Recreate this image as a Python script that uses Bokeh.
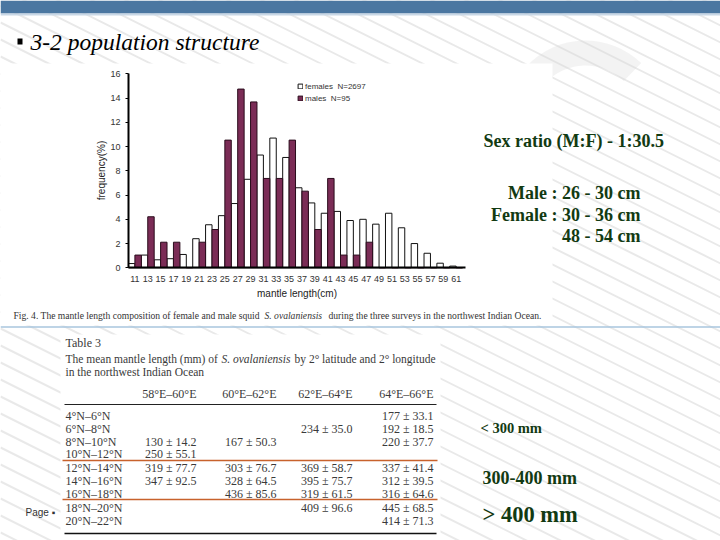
from bokeh.plotting import figure
from bokeh.models import Range1d, LinearAxis, FixedTicker, Legend, LegendItem, ColumnDataSource
from bokeh.transform import dodge
from bokeh.embed import file_html
from bokeh.resources import INLINE
from bokeh.core.properties import value

# ---------------- data ----------------
lengths = [11, 13, 15, 17, 19, 21, 23, 25, 27, 29, 31, 33, 35, 37, 39, 41, 43, 45,
           47, 49, 51, 53, 55, 57, 59, 61]
females = [0.35, 1.05, 0.66, 0.75, 1.1, 2.4, 3.55, 4.3, 5.3, 7.3, 9.3, 10.7, 9.1,
           6.6, 5.35, 4.5, 4.65, 3.9, 4.0, 3.6, 4.5, 3.3, 2.0, 1.2, 0.38, 0.14]
males = [1.05, 4.21, 2.11, 2.11, 0.0, 2.11, 3.16, 10.53, 14.74, 13.68, 7.37, 7.37,
         10.53, 6.32, 3.16, 7.37, 1.05, 1.05, 2.11, 0, 0, 0, 0, 0, 0, 0]
y_ticks = [0, 2, 4, 6, 8, 10, 12, 14, 16]
legend_labels = ["females  N=2697", "males  N=95"]

title_text = "3-2 population structure"
fig_caption = ["Fig. 4.  The mantle length composition of female and male squid",
               "S. ovalaniensis",
               "during the three surveys in the northwest Indian Ocean."]
side_notes = ["Sex ratio (M:F) - 1:30.5", "Male : 26 - 30 cm", "Female : 30 - 36 cm", "48 - 54 cm"]
size_notes = ["< 300 mm", "300-400 mm", "> 400 mm"]

table_title = "Table 3"
table_caption = ["The mean mantle length (mm) of", "S. ovalaniensis",
                 "by 2° latitude and 2° longitude"]
table_caption2 = "in the northwest Indian Ocean"
col_headers = ["58°E–60°E", "60°E–62°E", "62°E–64°E", "64°E–66°E"]
row_labels = ["4°N–6°N", "6°N–8°N", "8°N–10°N", "10°N–12°N", "12°N–14°N",
              "14°N–16°N", "16°N–18°N", "18°N–20°N", "20°N–22°N"]
cells = [
    ["", "", "", "177 ± 33.1"],
    ["", "", "234 ± 35.0", "192 ± 18.5"],
    ["130 ± 14.2", "167 ± 50.3", "", "220 ± 37.7"],
    ["250 ± 55.1", "", "", ""],
    ["319 ± 77.7", "303 ± 76.7", "369 ± 58.7", "337 ± 41.4"],
    ["347 ± 92.5", "328 ± 64.5", "395 ± 75.7", "312 ± 39.5"],
    ["", "436 ± 85.6", "319 ± 61.5", "316 ± 64.6"],
    ["", "", "409 ± 96.6", "445 ± 68.5"],
    ["", "", "", "414 ± 71.3"],
]

# ---------------- layout constants (page pixels) ----------------
W, H = 720, 540
PX_Y0, PX_PER_PCT = 267.3, 12.125      # histogram baseline and scale
PX_C11, PX_PER_CM = 134.4, 6.425       # centre of 11 cm class, px per cm
SERIF = value("Liberation Serif")
SANS = value("Liberation Sans")
GREEN = "#123a12"
PURPLE = "#7b2c56"

p = figure(width=W, height=H, x_range=Range1d(0, W), y_range=Range1d(H, 0),
           output_backend="svg", toolbar_location=None, min_border=0,
           x_axis_type=None, y_axis_type=None)
p.outline_line_color = None
p.background_fill_color = "white"
p.border_fill_color = "white"
p.xgrid.visible = False
p.ygrid.visible = False

# ---- slide background: diagonal stripes ----
bs = list(range(-420, 560, 17))
p.segment(x0=[0] * len(bs), y0=bs, x1=[W] * len(bs), y1=[b + 0.5 * W for b in bs],
          line_color="#e9e9e9", line_width=2)
# faint watermark shape
p.annular_wedge(x=[585], y=[120], inner_radius=[55], outer_radius=[80],
                start_angle=[0.8], end_angle=[4.0], fill_color="#d6d6d6",
                fill_alpha=0.3, line_color=None)

# top band
p.quad(left=[0], right=[W], top=[0], bottom=[13], fill_color="#4b77a1", line_color=None)
p.quad(left=[0], right=[W], top=[13], bottom=[15], fill_color="#c9d8e6", line_color=None)

# white image panels
p.quad(left=[0, 60], right=[552, 440], top=[63, 334], bottom=[325, 540],
       fill_color="white", line_color=None)
p.segment(x0=[0], y0=[326.5], x1=[W], y1=[326.5], line_color="#a9c6de", line_width=1.5)

# ---- title ----
p.quad(left=[17], right=[22], top=[38], bottom=[44], fill_color="black", line_color=None)
p.text(x=[30], y=[41], text=[title_text], text_font=SERIF, text_font_style="italic",
       text_font_size="23.5px", text_baseline="middle", text_color="black")

# ---- histogram ----
p.extra_x_ranges = {"hx": Range1d(11 - PX_C11 / PX_PER_CM, 11 + (W - PX_C11) / PX_PER_CM)}
p.extra_y_ranges = {"hy": Range1d((PX_Y0 - H) / PX_PER_PCT, PX_Y0 / PX_PER_PCT)}
src = ColumnDataSource(dict(x=lengths, f=females, m=males))
rf = p.vbar(x=dodge("x", -0.5), top="f", bottom=0, width=1, source=src,
            x_range_name="hx", y_range_name="hy",
            fill_color="white", line_color="#111111", line_width=1)
rm = p.vbar(x=dodge("x", 0.5), top="m", bottom=0, width=1, source=src,
            x_range_name="hx", y_range_name="hy",
            fill_color=PURPLE, line_color="#2a0c1c", line_width=1)

yax = LinearAxis(x_range_name="hx", y_range_name="hy", fixed_location=10.0,
                 bounds=(0, 16), ticker=FixedTicker(ticks=y_ticks),
                 axis_label="frequency(%)")
xax = LinearAxis(x_range_name="hx", y_range_name="hy", fixed_location=0,
                 bounds=(10, 62.5), ticker=FixedTicker(ticks=lengths),
                 axis_label="mantle length(cm)")
for ax in (yax, xax):
    ax.axis_line_width = 2
    ax.axis_line_color = "black"
    ax.major_tick_line_color = "black"
    ax.minor_tick_line_color = None
    ax.major_label_text_font = "Liberation Sans"
    ax.major_label_text_font_size = "9px"
    ax.major_label_text_color = "#333333"
    ax.axis_label_text_font = "Liberation Sans"
    ax.axis_label_text_font_size = "10px"
    ax.axis_label_text_font_style = "normal"
    ax.axis_label_text_color = "#222222"
yax.major_tick_in = 0
yax.major_tick_out = 3
yax.major_label_standoff = 5
yax.axis_label_standoff = 0
xax.major_tick_in = 0
xax.major_tick_out = 0
xax.major_label_standoff = 8
xax.axis_label_standoff = 3
p.add_layout(yax, "left")
p.add_layout(xax, "below")

legend = Legend(items=[LegendItem(label=legend_labels[0], renderers=[rf]),
                       LegendItem(label=legend_labels[1], renderers=[rm])],
                location=(297, H - 103), orientation="vertical",
                glyph_width=6, glyph_height=6, label_height=10, label_standoff=2,
                spacing=2, padding=0, margin=0, border_line_color=None,
                background_fill_alpha=0, label_text_font="Liberation Sans",
                label_text_font_size="8px", label_text_color="#333333")
p.add_layout(legend, "center")

# figure caption (species name in italics)
p.text(x=[13, 328], y=[315] * 2, text=[fig_caption[0], fig_caption[2]], text_font=SERIF,
       text_font_size="9.6px", text_baseline="middle", text_color="#333333")
p.text(x=[264], y=[315], text=[fig_caption[1]], text_font=SERIF, text_font_style="italic",
       text_font_size="9.6px", text_baseline="middle", text_color="#333333")

# ---- right-hand notes ----
p.text(x=[483], y=[140], text=[side_notes[0]], text_font=SERIF, text_font_style="bold",
       text_font_size="18px", text_baseline="middle", text_color=GREEN)
p.text(x=[640] * 3, y=[192, 214, 235], text=side_notes[1:], text_font=SERIF,
       text_font_style="bold", text_font_size="18px", text_align="right",
       text_baseline="middle", text_color=GREEN)
p.text(x=[480], y=[427], text=[size_notes[0]], text_font=SERIF, text_font_style="bold",
       text_font_size="14.5px", text_baseline="middle", text_color=GREEN)
p.text(x=[482], y=[477], text=[size_notes[1]], text_font=SERIF, text_font_style="bold",
       text_font_size="18px", text_baseline="middle", text_color=GREEN)
p.text(x=[482], y=[514], text=[size_notes[2]], text_font=SERIF, text_font_style="bold",
       text_font_size="22.5px", text_baseline="middle", text_color=GREEN)

p.text(x=[25], y=[512], text=["Page ▪"], text_font=SANS, text_font_size="10px",
       text_baseline="middle", text_color="#333333")

# ---- table ----
TXT = "#3a3a3a"
p.text(x=[65], y=[342], text=[table_title], text_font=SERIF, text_font_size="12px",
       text_baseline="middle", text_color=TXT)
p.text(x=[65, 294], y=[358] * 2, text=[table_caption[0], table_caption[2]], text_font=SERIF,
       text_font_size="11.5px", text_baseline="middle", text_color=TXT)
p.text(x=[221], y=[358], text=[table_caption[1]], text_font=SERIF, text_font_style="italic",
       text_font_size="11.5px", text_baseline="middle", text_color=TXT)
p.text(x=[65], y=[371], text=[table_caption2], text_font=SERIF, text_font_size="11.5px",
       text_baseline="middle", text_color=TXT)
col_right = [196, 276, 352, 433]
p.text(x=col_right, y=[393] * 4, text=col_headers, text_font=SERIF, text_font_size="12px",
       text_align="right", text_baseline="middle", text_color=TXT)
row_y = [415, 428, 441, 453, 467, 480, 493, 507, 520]
p.text(x=[65] * len(row_labels), y=row_y, text=row_labels, text_font=SERIF,
       text_font_size="12px", text_baseline="middle", text_color=TXT)
cx, cy, ct = [], [], []
for ri, row in enumerate(cells):
    for ci, s in enumerate(row):
        if s:
            cx.append(col_right[ci]); cy.append(row_y[ri]); ct.append(s)
p.text(x=cx, y=cy, text=ct, text_font=SERIF, text_font_size="12px",
       text_align="right", text_baseline="middle", text_color=TXT)
p.segment(x0=[64, 62, 62, 64], y0=[404, 460, 499, 533], x1=[436, 437, 437, 436],
          y1=[404, 460, 499, 533], line_color=["#222222", "#c8622c", "#c8622c", "#111111"],
          line_width=[1, 1.5, 1.5, 1.5])

open("out.html", "w").write(file_html(p, INLINE))
